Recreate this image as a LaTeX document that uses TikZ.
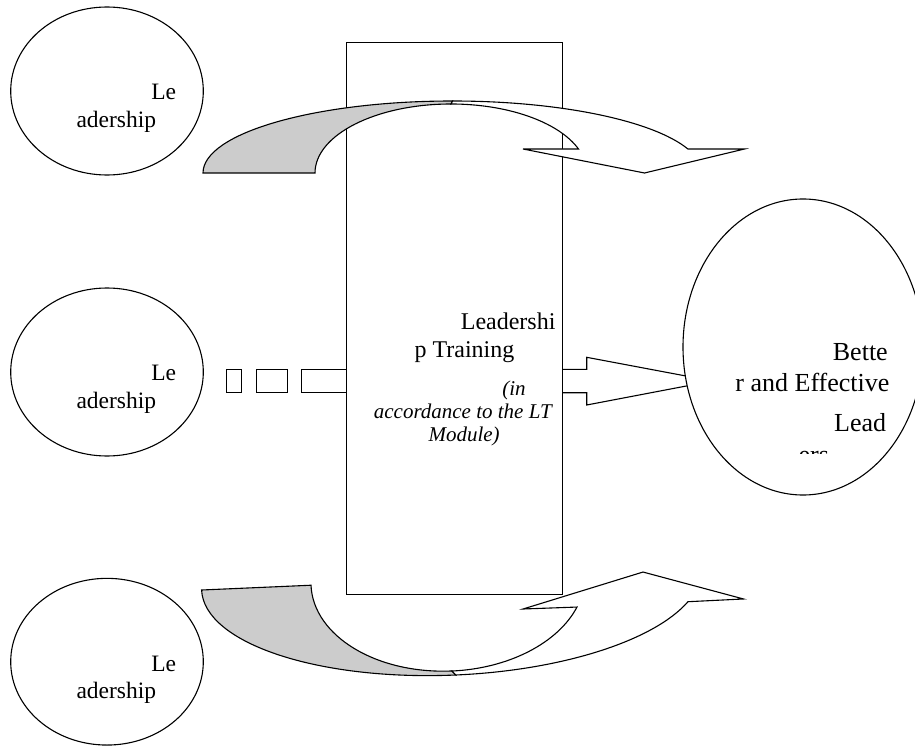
\documentclass[tikz,border=0pt]{standalone}
\usepackage{fontspec}
\setmainfont{Liberation Serif}
\usetikzlibrary{shapes.geometric}
\definecolor{bandgray}{RGB}{204,204,204}
\begin{document}
\begin{tikzpicture}[x=1pt,y=-1pt,line width=1.1pt,line join=miter,
  oval/.style={ellipse,draw,fill=white,inner sep=0pt,outer sep=0pt},
  boxnode/.style={rectangle,draw,fill=white,inner sep=0pt,outer sep=0pt},
  blockshape/.style={draw,fill=white},
  bandshape/.style={draw,fill=bandgray},
  lefttxt/.style={inner sep=0pt,font=\fontsize{23.5}{28}\selectfont},
  midtxt/.style={inner sep=0pt,font=\fontsize{24}{28}\selectfont},
  ittxt/.style={inner sep=0pt,font=\fontsize{21}{24}\selectfont\itshape},
  righttxt/.style={inner sep=0pt,font=\fontsize{26}{30}\selectfont}]
\useasboundingbox (0,0) rectangle (915,746);
\clip (0,0) rectangle (915,746);

% striped arrow tail (left of the box)
\draw[fill=white] (226.7,369.3) rectangle (241.7,392.7);
\draw[fill=white] (256.7,369.3) rectangle (287.3,392.7);
\draw[fill=white] (301.7,369.3) rectangle (346.7,392.7);

% block arrow towards the right ellipse
\filldraw[blockshape] (562.7,369.3) -- (586.7,369.3) -- (586.7,357.3) -- (712.5,381)
  -- (586.7,405) -- (586.7,392.7) -- (562.7,392.7);

% central box
\node[boxnode,minimum width=216pt,minimum height=551.6pt] (box) at (454.7,318.5) {};

% top curved arrow
\filldraw[bandshape] (203,173) arc[start angle=180,end angle=90,x radius=249.6pt,y radius=72pt]
  -- (451,104) arc[start angle=90,end angle=180,x radius=136pt,y radius=69pt] -- cycle;
\filldraw[blockshape] (452.6,101) arc[start angle=90,end angle=19.47,x radius=249.6pt,y radius=72pt]
  -- (744.5,149) -- (644.5,173) -- (523,149) -- (578.5,149)
  arc[start angle=20.35,end angle=90,x radius=136pt,y radius=69pt] -- cycle;

% bottom curved arrow
\begin{scope}[rotate around={2.5:(201.6,590)}]
\filldraw[bandshape] (201.6,590) arc[start angle=180,end angle=270,x radius=250.3pt,y radius=96pt]
  -- (448.2,681.8) arc[start angle=270,end angle=180,x radius=137.1pt,y radius=91.8pt] -- cycle;
\filldraw[blockshape] (451.9,686) arc[start angle=270,end angle=339.95,x radius=250.3pt,y radius=96pt]
  -- (742.6,622.6) -- (643.4,591.3) -- (521.9,623) -- (575.9,623.4)
  arc[start angle=338.7,end angle=270,x radius=137.1pt,y radius=91.8pt] -- cycle;
\end{scope}

% ellipses
\node[oval,minimum width=192.6pt,minimum height=168pt] (e1) at (107,91) {};
\node[oval,minimum width=192.6pt,minimum height=168pt] (e2) at (107,372) {};
\node[oval,minimum width=192.6pt,minimum height=166.7pt] (e3) at (107,661.7) {};
\node[oval,minimum width=240pt,minimum height=296pt] (e4) at (803,347) {};

% texts in the left ellipses
\node[lefttxt,anchor=base east] (t1a) at (176.7,100) {Le};
\node[lefttxt,anchor=base west] (t1b) at (76,127.7) {adership};
\node[lefttxt,anchor=base east] (t2a) at (176.7,380) {Le};
\node[lefttxt,anchor=base west] (t2b) at (76,408.3) {adership};
\node[lefttxt,anchor=base east] (t3a) at (176.7,671) {Le};
\node[lefttxt,anchor=base west] (t3b) at (76,698.3) {adership};

% texts in the box
\node[midtxt,anchor=base east] (c1) at (556,329) {Leadershi};
\node[midtxt,anchor=base west] (c2) at (414,357.5) {p Training};
\node[ittxt,anchor=base west] (c3) at (501.7,395) {(in};
\node[ittxt,anchor=base west] (c4) at (373.3,418.5) {accordance to the LT};
\node[ittxt,anchor=base west] (c5) at (428,441.7) {Module)};

% texts in the right ellipse
\node[righttxt,anchor=base east] (r1) at (888.3,360) {Bette};
\node[righttxt,anchor=base east] (r2) at (890,391.7) {r and Effective};
\node[righttxt,anchor=base east] (r3) at (886.7,431.7) {Lead};
\begin{scope}
\clip (780,440) rectangle (860,453.3);
\node[righttxt,anchor=base west] (r4) at (798,463.4) {ers};
\end{scope}
\end{tikzpicture}
\end{document}
